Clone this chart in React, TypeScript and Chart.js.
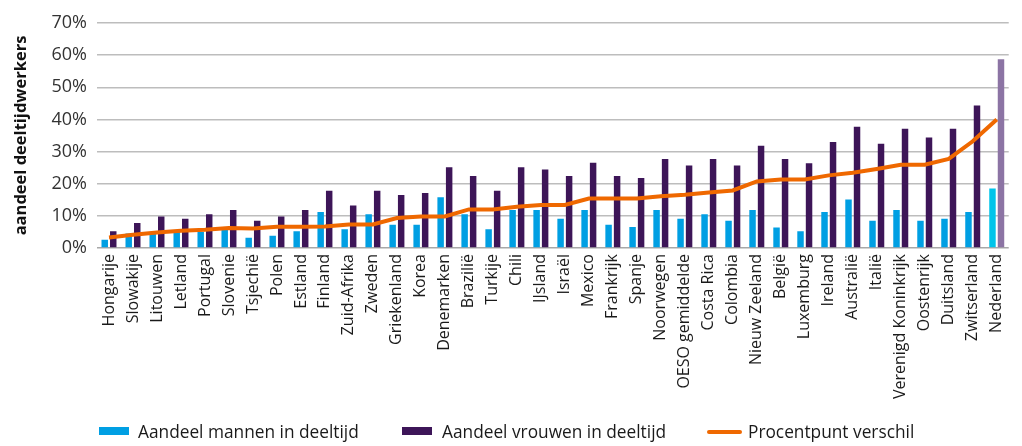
import React, { useEffect, useRef } from "react";
import { Chart, registerables } from "chart.js";

Chart.register(...registerables);

const categories = [
  "Hongarije", "Slowakije", "Litouwen", "Letland", "Portugal", "Slovenie", "Tsjechië", "Polen",
  "Estland", "Finland", "Zuid-Afrika", "Zweden", "Griekenland", "Korea", "Denemarken", "Brazilië",
  "Turkije", "Chili", "IJsland", "Israël", "Mexico", "Frankrijk", "Spanje", "Noorwegen",
  "OESO gemiddelde", "Costa Rica", "Colombia", "Nieuw Zeeland", "België", "Luxemburg", "Ireland",
  "Australië", "Italië", "Verenigd Koninkrijk", "Oostenrijk", "Duitsland", "Zwitserland", "Nederland",
];

const menValues = [
  2.6, 4.5, 5.0, 5.0, 5.0, 6.5, 3.2, 3.8, 5.2, 11.2, 5.8, 10.5, 7.2, 7.2, 15.8, 10.5,
  5.8, 11.8, 11.8, 9.1, 11.8, 7.2, 6.5, 11.8, 9.1, 10.5, 8.5, 11.8, 6.4, 5.2, 11.2,
  15.1, 8.5, 11.8, 8.5, 9.1, 11.2, 18.5,
];

const womenValues = [
  5.2, 7.8, 9.8, 9.1, 10.5, 11.8, 8.5, 9.8, 11.8, 17.8, 13.2, 17.8, 16.5, 17.1, 25.1, 22.4,
  17.8, 25.1, 24.4, 22.4, 26.5, 22.4, 21.8, 27.7, 25.7, 27.7, 25.7, 31.8, 27.7, 26.4, 33.0,
  37.7, 32.4, 37.1, 34.4, 37.1, 44.3, 58.7,
];

const diffValues = [
  3.3, 4.1, 4.8, 5.4, 5.7, 6.2, 6.1, 6.6, 6.6, 6.7, 7.3, 7.3, 9.3, 9.8, 9.8, 12.0,
  12.0, 12.8, 13.4, 13.4, 15.4, 15.4, 15.4, 16.1, 16.6, 17.3, 17.9, 20.7, 21.3, 21.3, 22.6,
  23.4, 24.6, 25.9, 25.9, 27.7, 33.2, 40.0,
];

const yTicks = [0, 10, 20, 30, 40, 50, 60, 70];

const highlight = "Nederland";
const MEN = "#009fe3";
const MEN_HL = "#00c4ea";
const WOMEN = "#3d1558";
const WOMEN_HL = "#8c74a4";
const ORANGE = "#ef6800";
const FONT = "'Open Sans', 'Noto Sans', sans-serif";

const legendItems = [
  { label: "Aandeel mannen in deeltijd", color: MEN, kind: "box", left: 99, textLeft: 138 },
  { label: "Aandeel vrouwen in deeltijd", color: WOMEN, kind: "box", left: 402, textLeft: 442 },
  { label: "Procentpunt verschil", color: ORANGE, kind: "line", left: 707, textLeft: 748 },
];

export default function App() {
  const ref = useRef<HTMLCanvasElement | null>(null);

  useEffect(() => {
    if (!ref.current) return;
    const chart = new Chart(ref.current, {
      type: "bar",
      data: {
        labels: categories,
        datasets: [
          {
            type: "line",
            label: "Procentpunt verschil",
            data: diffValues,
            borderColor: ORANGE,
            backgroundColor: ORANGE,
            borderWidth: 4,
            pointRadius: 0,
            tension: 0,
            order: 0,
          } as any,
          {
            label: "Aandeel mannen in deeltijd",
            data: menValues,
            backgroundColor: categories.map((c) => (c === highlight ? MEN_HL : MEN)),
            categoryPercentage: 0.71,
            barPercentage: 0.76,
            order: 1,
          },
          {
            label: "Aandeel vrouwen in deeltijd",
            data: womenValues,
            backgroundColor: categories.map((c) => (c === highlight ? WOMEN_HL : WOMEN)),
            categoryPercentage: 0.71,
            barPercentage: 0.76,
            order: 1,
          },
        ],
      },
      options: {
        animation: false,
        responsive: false,
        maintainAspectRatio: false,
        layout: { padding: { top: 23, right: 5, left: 0, bottom: 0 } },
        plugins: {
          legend: { display: false },
          tooltip: { enabled: false },
        },
        scales: {
          x: {
            grid: { display: false, drawTicks: false },
            border: { display: false },
            ticks: {
              autoSkip: false,
              maxRotation: 90,
              minRotation: 90,
              padding: 6,
              color: "#1a1a1a",
              font: { family: FONT, size: 16 },
            },
            afterFit: (scale: any) => {
              scale.height = 198;
            },
          },
          y: {
            min: 0,
            max: 70,
            afterBuildTicks: (scale: any) => {
              scale.ticks = yTicks.map((v) => ({ value: v }));
            },
            grid: {
              color: (ctx: any) => (ctx.tick && ctx.tick.value === 0 ? "#a8a8a8" : "#bdbdbd"),
              lineWidth: 1.5,
              drawTicks: false,
            },
            border: { display: false },
            ticks: {
              padding: 10,
              color: "#333333",
              font: { family: FONT, size: 18 },
              callback: (v: any) => `${v}%`,
            },
            title: {
              display: true,
              text: "aandeel deeltijdwerkers",
              color: "#111111",
              font: { family: FONT, size: 16.5, weight: "bold" },
              padding: { top: 11, bottom: 0 },
            },
            afterFit: (scale: any) => {
              scale.width = 97;
            },
          },
        },
      },
    });
    return () => chart.destroy();
  }, []);

  return (
    <div style={{ position: "fixed", left: 0, top: 0, width: 1022, height: 446, background: "#fff" }}>
      <canvas ref={ref} width={1022} height={446} style={{ width: 1022, height: 446, display: "block" }} />
      {legendItems.map((it) => (
        <React.Fragment key={it.label}>
          <span
            style={{
              position: "absolute",
              left: it.left,
              top: it.kind === "box" ? 427 : 430,
              width: it.kind === "box" ? 30 : 35,
              height: it.kind === "box" ? 8 : 4,
              borderRadius: it.kind === "line" ? 2 : 0,
              background: it.color,
            }}
          />
          <span
            style={{
              position: "absolute",
              left: it.textLeft,
              top: 420,
              fontFamily: FONT,
              fontSize: 17.3,
              lineHeight: "normal",
              color: "#1a1a1a",
              whiteSpace: "nowrap",
            }}
          >
            {it.label}
          </span>
        </React.Fragment>
      ))}
    </div>
  );
}
